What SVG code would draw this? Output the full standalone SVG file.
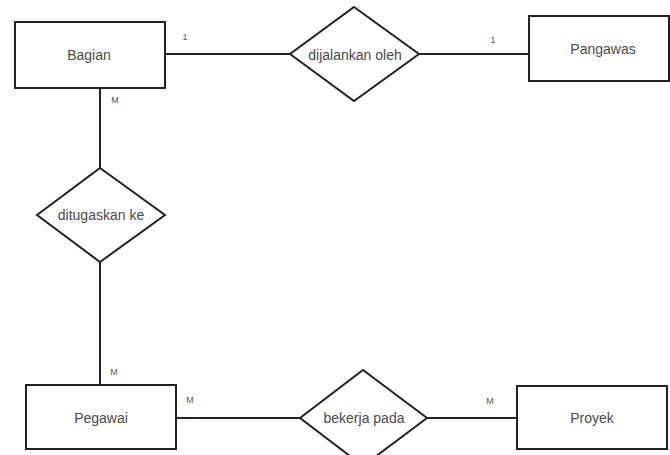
<svg xmlns="http://www.w3.org/2000/svg" width="670" height="455" viewBox="0 0 670 455">
<style>
.ent{fill:#fff;stroke:#222;stroke-width:2}
.rel{fill:#fff;stroke:#222;stroke-width:2}
.lbl{font-family:"Liberation Sans",Arial,sans-serif;font-size:14px;fill:#4a4a4a;text-anchor:middle;dominant-baseline:central}
.card{font-family:"Liberation Sans",Arial,sans-serif;font-size:9px;fill:#555;text-anchor:middle;dominant-baseline:central}
.conn{stroke:#222;stroke-width:2;fill:none}
</style>
<rect width="670" height="455" fill="#fff"/>
<g id="connectors">
<line class="conn" x1="165" y1="54" x2="290" y2="54"/>
<line class="conn" x1="419" y1="54" x2="529" y2="54"/>
<line class="conn" x1="100" y1="88" x2="100" y2="168"/>
<line class="conn" x1="100" y1="262" x2="100" y2="385"/>
<line class="conn" x1="176" y1="418" x2="300" y2="418"/>
<line class="conn" x1="427" y1="418" x2="517" y2="418"/>
</g>
<g id="Bagian">
<rect class="ent" x="15" y="22" width="150" height="66"/>
<text class="lbl" x="89" y="55">Bagian</text>
</g>
<g id="Pangawas">
<rect class="ent" x="529" y="16" width="140" height="65"/>
<text class="lbl" x="603" y="49">Pangawas</text>
</g>
<g id="dijalankan_oleh">
<polygon class="rel" points="354,7 419,54 354,101 290,54"/>
<text class="lbl" x="355" y="55">dijalankan oleh</text>
</g>
<g id="ditugaskan_ke">
<polygon class="rel" points="100,168 165,215 100,262 37,215"/>
<text class="lbl" x="101" y="215">ditugaskan ke</text>
</g>
<g id="Pegawai">
<rect class="ent" x="26" y="385" width="150" height="64"/>
<text class="lbl" x="101" y="418">Pegawai</text>
</g>
<g id="bekerja_pada">
<polygon class="rel" points="363,370 427,418 363,466 300,418"/>
<text class="lbl" x="364" y="418">bekerja pada</text>
</g>
<g id="Proyek">
<rect class="ent" x="517" y="386" width="150" height="63"/>
<text class="lbl" x="592" y="418">Proyek</text>
</g>
<g id="cardinalities">
<text class="card" x="185" y="37">1</text>
<text class="card" x="493" y="40">1</text>
<text class="card" x="115" y="100">M</text>
<text class="card" x="114" y="372">M</text>
<text class="card" x="190" y="400">M</text>
<text class="card" x="490" y="401">M</text>
</g>
</svg>
